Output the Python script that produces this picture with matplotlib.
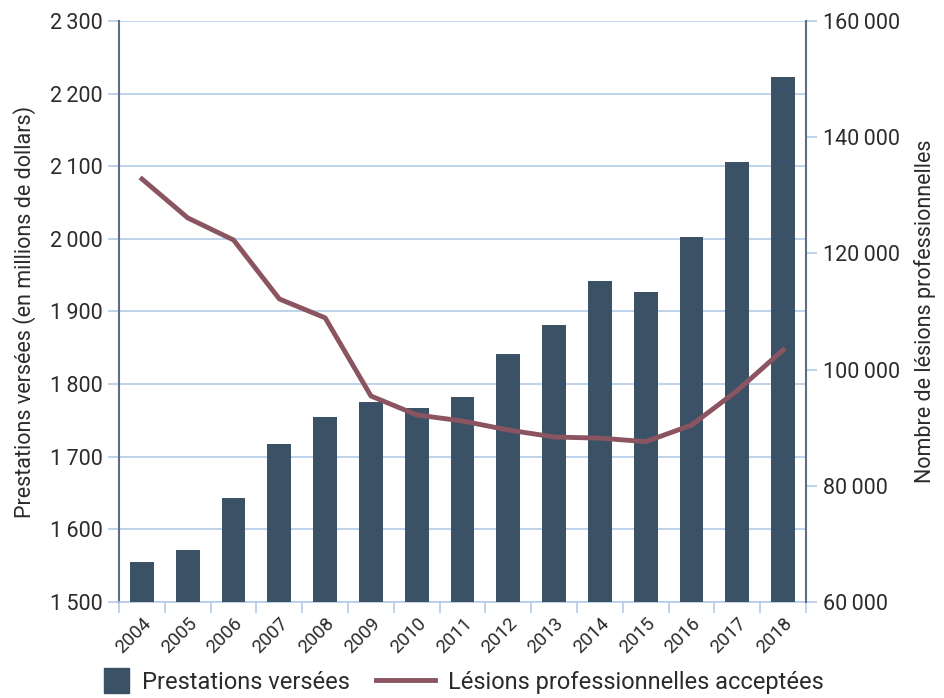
import matplotlib.pyplot as plt
import matplotlib.patches as mpatches
from matplotlib.legend_handler import HandlerPatch
import numpy as np

plt.rcParams['font.family'] = ['Roboto', 'DejaVu Sans']

# Data
years = [str(y) for y in range(2004, 2019)]
prestations = [1555, 1572, 1643, 1718, 1755, 1775, 1767, 1782, 1841, 1881,
               1942, 1927, 2002, 2106, 2223]
lesions = [132800, 126100, 122300, 112150, 108900, 95450, 92200, 91150,
           89600, 88400, 88200, 87600, 90450, 96400, 103400]

left_ticks = [1500, 1600, 1700, 1800, 1900, 2000, 2100, 2200, 2300]
right_ticks = [60000, 80000, 100000, 120000, 140000, 160000]

bar_color = "#3b5166"
line_color = "#8a5560"
grid_color = "#b3cbe8"
spine_color = "#5d6e80"
text_color = "#2b2b2b"


def fmt(v):
    s = f"{v:,}".replace(",", "\u2009")
    return s


def square_patch(legend, orig_handle, xdescent, ydescent, width, height,
                 fontsize):
    side = height * 1.5
    return mpatches.Rectangle((width - side, -(side - height) / 2 - ydescent),
                              side, side)


fig = plt.figure(figsize=(9.45, 6.98), dpi=100)
ax = fig.add_axes([0.126, 0.1375, 0.727, 0.8325])
x = np.arange(len(years))

ax.bar(x, prestations, width=0.52, color=bar_color, zorder=3)
ax.set_ylim(1500, 2300)
ax.set_xlim(-0.5, len(years) - 0.5)
ax.set_yticks(left_ticks)
ax.set_yticklabels([fmt(v) for v in left_ticks], fontsize=15.5, color=text_color)
ax.yaxis.grid(True, color=grid_color, linewidth=1.2, zorder=0)
ax.set_axisbelow(True)

ax.set_xticks(x)
ax.set_xticklabels(years, rotation=45, ha="right", rotation_mode="anchor",
                   fontsize=13.5, color=text_color)
ax.set_xticks(np.arange(-0.5, len(years)), minor=True)
ax.tick_params(axis="x", which="major", length=0, pad=9)
ax.tick_params(axis="x", which="minor", length=8, color=grid_color, width=1.2)
ax.tick_params(axis="y", length=8, color=grid_color, width=1.2, pad=4)

ax.spines["top"].set_visible(False)
ax.spines["right"].set_visible(False)
ax.spines["left"].set_color(spine_color)
ax.spines["left"].set_linewidth(1.5)
ax.spines["bottom"].set_color(grid_color)
ax.spines["bottom"].set_linewidth(1.2)
ax.set_ylabel("Prestations versées (en millions de dollars)", fontsize=15.5,
              color=text_color, labelpad=10)

ax2 = ax.twinx()
line, = ax2.plot(x, lesions, color=line_color, linewidth=3.5, zorder=4)
ax2.set_ylim(60000, 160000)
ax2.set_yticks(right_ticks)
ax2.set_yticklabels([fmt(v) for v in right_ticks], fontsize=15.5,
                    color=text_color)
ax2.tick_params(axis="y", length=8, color=grid_color, width=1.2, pad=4)
for s in ["top", "left", "bottom"]:
    ax2.spines[s].set_visible(False)
ax2.spines["right"].set_color(spine_color)
ax2.spines["right"].set_linewidth(1.5)
ax2.set_ylabel("Nombre de lésions professionnelles", fontsize=15.5,
               color=text_color, labelpad=10)

bar_proxy = mpatches.Patch(color=bar_color)
fig.legend([bar_proxy, line],
           ["Prestations versées", "Lésions professionnelles acceptées"],
           loc="lower center", ncol=2, frameon=False,
           fontsize=17, bbox_to_anchor=(0.473, -0.024), handlelength=2.5,
           handletextpad=0.55, columnspacing=1.1, labelcolor=text_color,
           handler_map={mpatches.Patch: HandlerPatch(patch_func=square_patch)})

fig.savefig("out.png", dpi=100)
